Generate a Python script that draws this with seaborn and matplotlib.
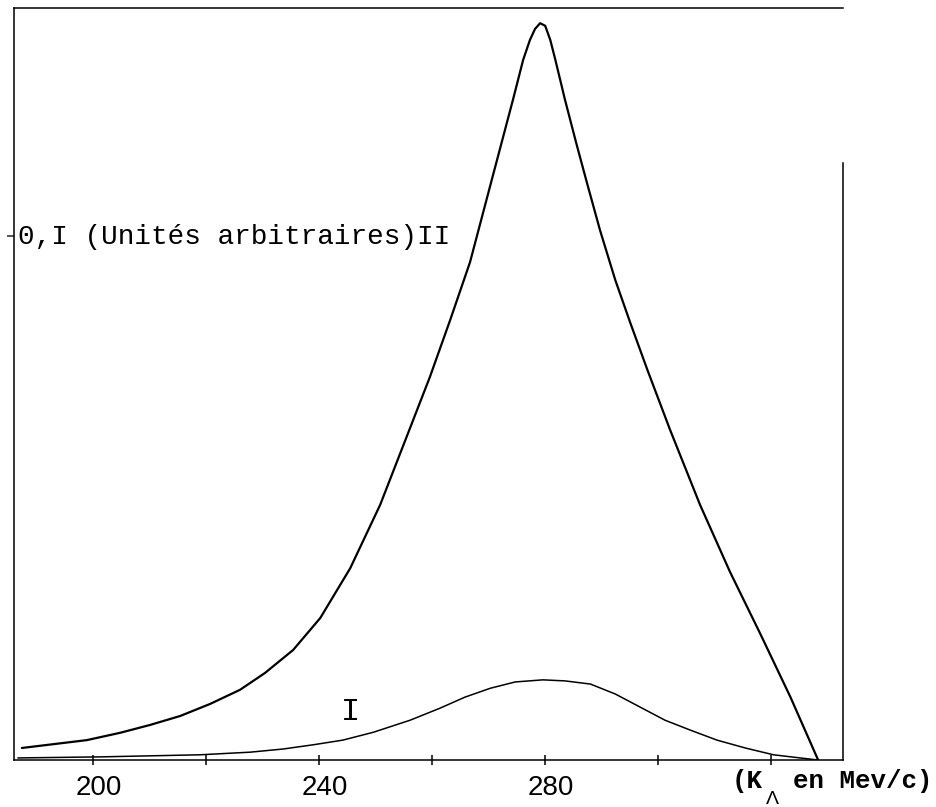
import matplotlib
matplotlib.use("Agg")
import matplotlib.pyplot as plt
import matplotlib.transforms as mtransforms
import seaborn as sns
import pandas as pd

# Courbe II : section efficace (unités arbitraires) en fonction de K_Lambda (MeV/c)
k_II = [187.4, 198.9, 204.8, 210.1, 215.4, 220.7, 226.0, 230.4, 235.4, 240.2,
        245.5, 250.8, 255.6, 259.6, 263.2, 266.7, 270.3, 274.3, 276.1, 277.3,
        278.2, 279.1, 280.0, 280.9, 281.8, 283.5, 285.5, 287.4, 289.7, 292.4,
        295.0, 298.1, 302.1, 307.4, 312.7, 318.1, 323.4, 328.3]
sigma_II = [0.0023, 0.0038, 0.0052, 0.0067, 0.0084, 0.0107, 0.0134, 0.0166, 0.0210, 0.0271,
            0.0366, 0.0487, 0.0620, 0.0731, 0.0840, 0.0950, 0.1097, 0.1260, 0.1336, 0.1374,
            0.1395, 0.1406, 0.1401, 0.1374, 0.1336, 0.1260, 0.1177, 0.1101, 0.1011, 0.0916,
            0.0836, 0.0744, 0.0630, 0.0487, 0.0359, 0.0240, 0.0120, 0.0]

# Courbe I
k_I = [186.7, 201.2, 218.9, 227.8, 233.6, 238.9, 244.2, 249.6, 256.1, 261.4,
       265.8, 270.3, 274.7, 279.6, 283.5, 288.0, 292.4, 296.8, 301.2, 305.7,
       310.4, 315.4, 320.4, 325.1, 328.3]
sigma_I = [0.0004, 0.0006, 0.0010, 0.0015, 0.0021, 0.0029, 0.0038, 0.0053, 0.0076, 0.0099,
           0.0120, 0.0137, 0.0149, 0.0153, 0.0151, 0.0145, 0.0126, 0.0101, 0.0076, 0.0057,
           0.0038, 0.0023, 0.0010, 0.0004, 0.0]

x_ticks = [200, 220, 240, 260, 280, 300, 320]
x_tick_labels = ["200", "", "240", "", "280", "", ""]
y_ticks = [0.1]

df_II = pd.DataFrame({"k": k_II, "sigma": sigma_II})
df_I = pd.DataFrame({"k": k_I, "sigma": sigma_I})

sns.set_style("white")
plt.rcParams["font.family"] = ["Liberation Sans", "DejaVu Sans"]
plt.rcParams["lines.solid_joinstyle"] = "round"

fig = plt.figure(figsize=(9.37, 8.07), dpi=100)
ax = fig.add_axes([0.0149, 0.0582, 0.8848, 0.9319])

sns.lineplot(data=df_II, x="k", y="sigma", ax=ax, color="black", lw=1.6,
             sort=False, estimator=None)
sns.lineplot(data=df_I, x="k", y="sigma", ax=ax, color="black", lw=1.1,
             sort=False, estimator=None)

ax.set_xlim(186.0, 332.7)
ax.set_ylim(0, 0.1435)
ax.set_xlabel("")
ax.set_ylabel("")

for side in ["top", "bottom", "left", "right"]:
    ax.spines[side].set_color("black")
    ax.spines[side].set_linewidth(1.1)
ax.spines["right"].set_bounds(0, 0.1139)

ax.set_xticks(x_ticks)
ax.set_xticklabels(x_tick_labels, fontsize=20, family="Liberation Sans")
ax.tick_params(axis="x", direction="inout", length=7, width=1.1, pad=7,
               colors="black", bottom=True)
offset = mtransforms.ScaledTranslation(6 / 100, 0, fig.dpi_scale_trans)
for lab in ax.get_xticklabels():
    lab.set_transform(lab.get_transform() + offset)

ax.set_yticks(y_ticks)
ax.set_yticklabels([""])
ax.tick_params(axis="y", direction="out", length=5, width=1.1, left=True)

mono = ["Liberation Mono", "DejaVu Sans Mono"]
ax.text(186.7, 0.0985, "0,I (Unités arbitraires)II", family=mono,
        fontsize=20, ha="left", va="baseline", color="black")
ax.text(245.5, 0.0092, "I", family=mono, fontsize=23, ha="center",
        va="center", color="black")

# Titre de l'axe des abscisses : K avec l'indice Lambda placé en dessous
fig.text(732 / 937, 1 - 788 / 807, "(K", family=mono,
         fontsize=18.6, fontweight="bold", ha="left", va="baseline", color="black")
fig.text(772 / 937, 1 - 800 / 807, "Λ", family=["Liberation Sans", "DejaVu Sans"],
         fontsize=14, ha="center", va="center", color="black")
fig.text(933 / 937, 1 - 788 / 807, "en Mev/c)", family=mono,
         fontsize=18.6, fontweight="bold", ha="right", va="baseline", color="black")

fig.savefig("out.png", dpi=100, facecolor="white")
